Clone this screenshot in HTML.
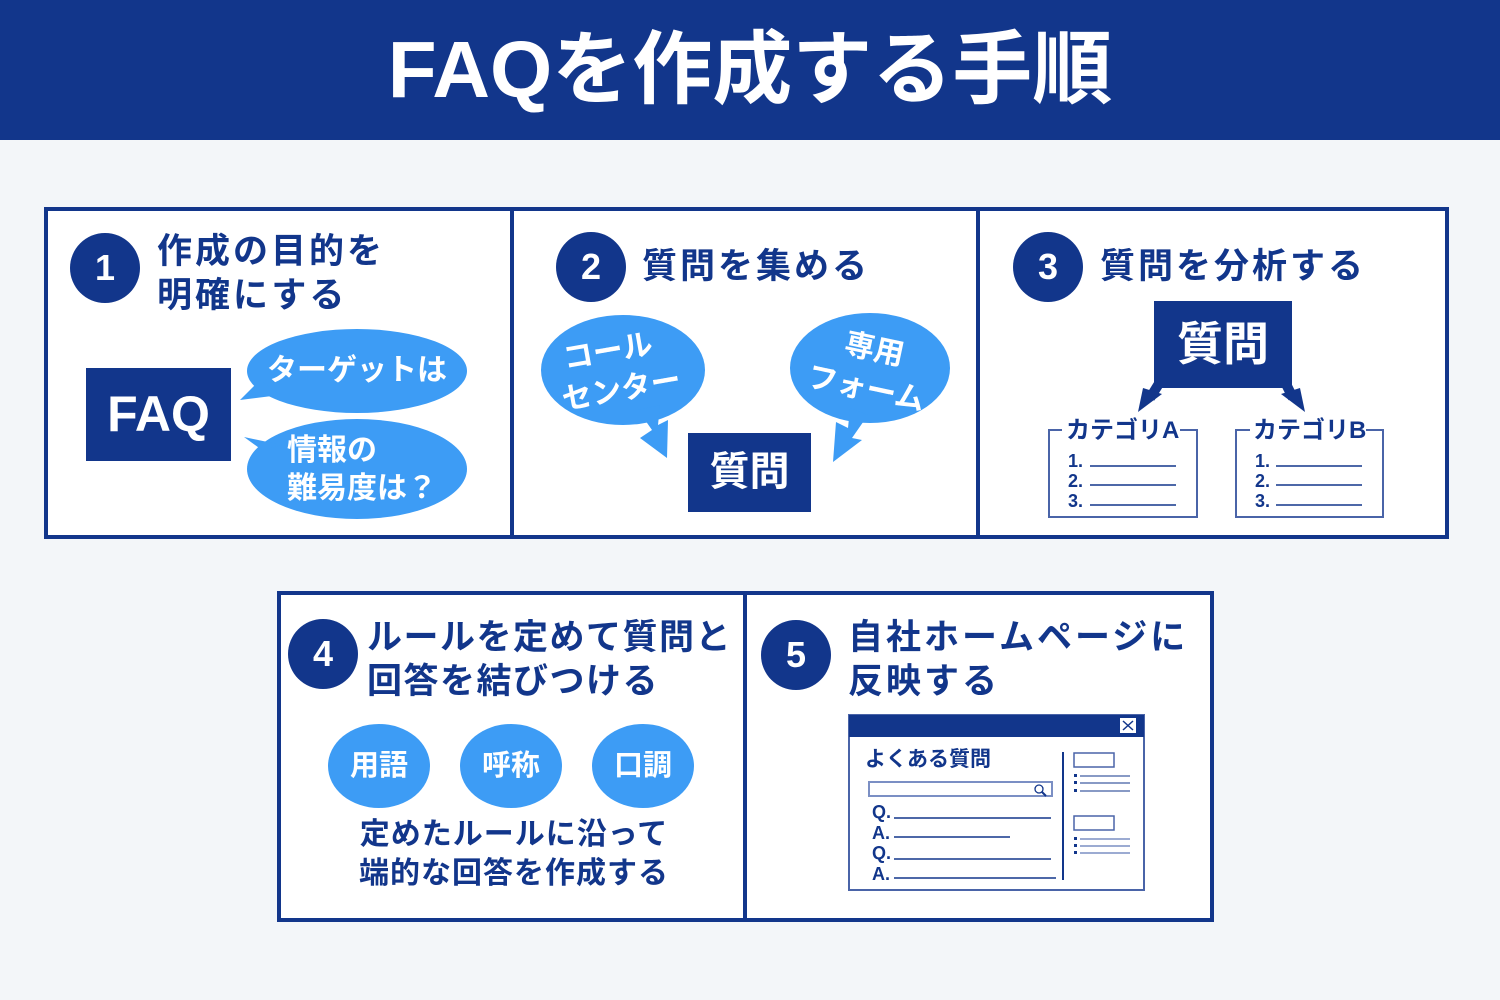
<!DOCTYPE html>
<html><head><meta charset="utf-8"><style>
*{margin:0;padding:0;box-sizing:border-box}
body{width:1500px;height:1000px;background:#f3f6f9;position:relative;overflow:hidden;font-family:"Liberation Sans","Noto Sans CJK JP",sans-serif;color:#12368b;font-weight:bold}
.a{position:absolute}
.t{position:absolute;font-size:35px;line-height:44px;white-space:nowrap;letter-spacing:3px}
.c{position:absolute;width:70px;height:70px;border-radius:50%;background:#12368b;color:#fff;font-size:36px;line-height:70px;text-align:center}
.box{position:absolute;background:#12368b;color:#fff;text-align:center}
</style></head><body>
<div class="a" style="left:0;top:0;width:1500px;height:140px;background:#12368b;color:#fff;font-size:80px;line-height:140px;text-align:center;letter-spacing:0px">FAQを作成する手順</div>

<div class="a" style="left:44px;top:207px;width:1405px;height:332px;border:4px solid #12368b;background:#fff"></div>
<div class="a" style="left:510px;top:207px;width:4px;height:332px;background:#12368b"></div>
<div class="a" style="left:976px;top:207px;width:4px;height:332px;background:#12368b"></div>
<div class="a" style="left:277px;top:591px;width:937px;height:331px;border:4px solid #12368b;background:#fff"></div>
<div class="a" style="left:743px;top:591px;width:4px;height:331px;background:#12368b"></div>

<svg class="a" style="left:0;top:0" width="1500" height="1000">
<g fill="#3d9cf5">
<ellipse cx="357" cy="371" rx="110" ry="42"/><polygon points="260,380 240,400 280,395"/>
<ellipse cx="357" cy="469" rx="110" ry="50"/><polygon points="262,450 244,437 282,445"/>
<ellipse cx="623" cy="370" rx="82" ry="55"/><polygon points="638,410 652,430 640,438 667,458 668,420 658,425 660,405"/>
<ellipse cx="870" cy="368" rx="80" ry="55"/><polygon points="850,408 848,428 836,422 833,462 862,440 852,438 868,415"/>
<ellipse cx="379" cy="766" rx="51" ry="42"/><ellipse cx="511" cy="766" rx="51" ry="42"/><ellipse cx="643" cy="766" rx="51" ry="42"/>
</g>
<g fill="none" stroke="#12368b" stroke-width="10">
<polyline points="1160,382 1150,398"/><polyline points="1285,382 1293,398"/>
</g>
<polygon fill="#12368b" points="1138,412 1162,394 1143,388"/>
<polygon fill="#12368b" points="1305,412 1281,394 1300,388"/>
<g fill="none" stroke="#4a64a8" stroke-width="2">
<polyline points="1062,430 1049,430 1049,517 1197,517 1197,430 1180,430"/>
<polyline points="1250,430 1236,430 1236,517 1383,517 1383,430 1366,430"/>
</g>
<g stroke="#12368b" stroke-width="1.5">
<line x1="1090" y1="466" x2="1176" y2="466"/><line x1="1090" y1="485" x2="1176" y2="485"/><line x1="1090" y1="505" x2="1176" y2="505"/>
<line x1="1276" y1="466" x2="1362" y2="466"/><line x1="1276" y1="485" x2="1362" y2="485"/><line x1="1276" y1="505" x2="1362" y2="505"/>
</g>
<rect x="849" y="715" width="295" height="175" fill="#fff" stroke="#4a64a8" stroke-width="2"/>
<rect x="849" y="715" width="295" height="22" fill="#12368b"/>
<rect x="1120" y="718" width="16" height="15" fill="#fff"/>
<path d="M1123 721 L1133 730 M1133 721 L1123 730" stroke="#12368b" stroke-width="1.5"/>
<rect x="869" y="782" width="183" height="14" fill="#fff" stroke="#7b8fc4" stroke-width="2"/>
<circle cx="1039" cy="789" r="4" fill="none" stroke="#12368b" stroke-width="1.3"/><line x1="1042" y1="792" x2="1046" y2="796" stroke="#12368b" stroke-width="2"/>
<line x1="1063" y1="752" x2="1063" y2="880" stroke="#12368b" stroke-width="2"/>
<g stroke="#12368b" stroke-width="1.5">
<line x1="894" y1="818" x2="1051" y2="818"/><line x1="894" y1="837" x2="1010" y2="837"/><line x1="894" y1="859" x2="1051" y2="859"/><line x1="894" y1="878" x2="1056" y2="878"/>
</g>
<rect x="1074" y="753" width="40" height="14" fill="none" stroke="#4a64a8" stroke-width="1.5"/>
<rect x="1074" y="816" width="40" height="14" fill="none" stroke="#4a64a8" stroke-width="1.5"/>
<g stroke="#12368b" stroke-width="1"><line x1="1080" y1="776" x2="1130" y2="776"/><line x1="1080" y1="783" x2="1130" y2="783"/><line x1="1080" y1="791" x2="1130" y2="791"/></g>
<g stroke="#7b8fc4" stroke-width="1.5"><line x1="1080" y1="839" x2="1130" y2="839"/><line x1="1080" y1="846" x2="1130" y2="846"/><line x1="1080" y1="853" x2="1130" y2="853"/></g>
<g fill="#12368b"><rect x="1074" y="774" width="3" height="3"/><rect x="1074" y="781" width="3" height="3"/><rect x="1074" y="789" width="3" height="3"/><rect x="1074" y="837" width="3" height="3"/><rect x="1074" y="844" width="3" height="3"/><rect x="1074" y="851" width="3" height="3"/></g>
</svg>

<div class="c" style="left:70px;top:233px">1</div>
<div class="t" style="left:157px;top:230px">作成の目的を<br>明確にする</div>
<div class="box" style="left:86px;top:368px;width:145px;height:93px;font-size:50px;line-height:93px">FAQ</div>
<div class="a" style="left:247px;top:351px;width:220px;text-align:center;color:#fff;font-size:30px;line-height:40px">ターゲットは</div>
<div class="a" style="left:287px;top:432px;color:#fff;font-size:30px;line-height:38px;white-space:nowrap">情報の<br>難易度は？</div>

<div class="c" style="left:556px;top:232px">2</div>
<div class="t" style="left:642px;top:245px">質問を集める</div>
<div class="a" style="left:558px;top:330px;width:130px;color:#fff;font-size:30px;line-height:40px;transform:rotate(-10deg);white-space:nowrap">&nbsp;コール<br>センター</div>
<div class="a" style="left:805px;top:330px;width:130px;color:#fff;font-size:30px;line-height:40px;transform:rotate(12deg);white-space:nowrap;text-align:center">専用<br>フォーム</div>
<div class="box" style="left:688px;top:433px;width:123px;height:79px;font-size:40px;line-height:79px">質問</div>

<div class="c" style="left:1013px;top:232px">3</div>
<div class="t" style="left:1100px;top:245px">質問を分析する</div>
<div class="box" style="left:1154px;top:301px;width:138px;height:87px;font-size:46px;line-height:87px">質問</div>
<div class="a" style="left:1066px;top:417px;font-size:24px;line-height:28px;background:#fff">カテゴリA</div>
<div class="a" style="left:1253px;top:417px;font-size:24px;line-height:28px;background:#fff">カテゴリB</div>
<div class="a" style="left:1068px;top:451px;font-size:18px;line-height:20px">1.<br>2.<br>3.</div>
<div class="a" style="left:1255px;top:451px;font-size:18px;line-height:20px">1.<br>2.<br>3.</div>

<div class="c" style="left:288px;top:619px">4</div>
<div class="t" style="left:367px;top:616px;letter-spacing:1.5px">ルールを定めて質問と<br>回答を結びつける</div>
<div class="a" style="left:328px;top:746px;width:102px;text-align:center;color:#fff;font-size:29px;line-height:40px">用語</div>
<div class="a" style="left:460px;top:746px;width:102px;text-align:center;color:#fff;font-size:29px;line-height:40px">呼称</div>
<div class="a" style="left:592px;top:746px;width:102px;text-align:center;color:#fff;font-size:29px;line-height:40px">口調</div>
<div class="a" style="left:314px;top:815px;width:400px;text-align:center;font-size:30px;line-height:39px;letter-spacing:1px">定めたルールに沿って<br>端的な回答を作成する</div>

<div class="c" style="left:761px;top:620px">5</div>
<div class="t" style="left:848px;top:616px">自社ホームページに<br>反映する</div>
<div class="a" style="left:865px;top:746px;font-size:21px;line-height:28px">よくある質問</div>
<div class="a" style="left:872px;top:802px;font-size:18px;line-height:20.5px">Q.<br>A.<br>Q.<br>A.</div>
</body></html>
